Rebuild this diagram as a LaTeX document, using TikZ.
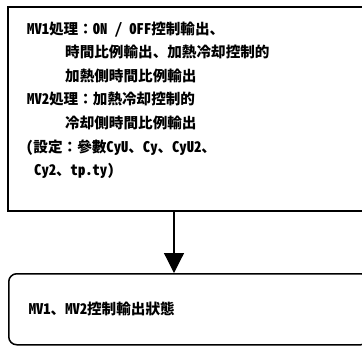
\documentclass[tikz,border=0pt]{standalone}
\usepackage{fontspec}
\setmainfont{Noto Sans CJK JP}
\newfontfamily\halfwd{Noto Sans CJK JP}[RawFeature=+hwid]
\newcommand{\hw}[1]{{\halfwd #1}}
\usetikzlibrary{arrows.meta,positioning}

\begin{document}
\begin{tikzpicture}[
    x=1pt, y=-1pt,
    every node/.style={font=\fontsize{14.6pt}{23.6pt}\selectfont\bfseries},
    procbox/.style={draw, line width=1.5pt, anchor=north west, minimum width=360pt, minimum height=204pt},
    procline/.style={anchor=base west, inner sep=0pt},
    statebox/.style={draw, line width=1.5pt, rounded corners=8pt, anchor=north west, align=left,
      text width=320pt, inner xsep=19pt, minimum width=360pt, minimum height=71pt},
    arrow/.style={-{Triangle[length=20pt,width=20pt]}, line width=1.2pt}
]
  \useasboundingbox (0,0) rectangle (362,346);

  % processing box
  \node[procbox] (proc) at (7,6) {};
  \node[procline] (p1) at (27,34)    {\hw{MV1}処理：\hw{ON / OFF}控制輸出、};
  \node[procline] (p2) at (65,57.6)  {時間比例輸出、加熱冷却控制的};
  \node[procline] (p3) at (65,81.2)  {加熱側時間比例輸出};
  \node[procline] (p4) at (27,104.8) {\hw{MV2}処理：加熱冷却控制的};
  \node[procline] (p5) at (65,128.4) {冷却側時間比例輸出};
  \node[procline] (p6) at (26,152)   {\hw{(}設定：參數\hw{CyU}、\hw{Cy}、\hw{CyU2}、};
  \node[procline] (p7) at (34,175.6) {\hw{Cy2}、\hw{tp.ty)}};

  % output state
  \node[statebox] (state) at (8,273) {\hw{MV1}、\hw{MV2}控制輸出狀態};

  \coordinate (ax) at (174,0);
  \draw[arrow] (proc.south -| ax) -- (state.north -| ax);
\end{tikzpicture}
\end{document}
